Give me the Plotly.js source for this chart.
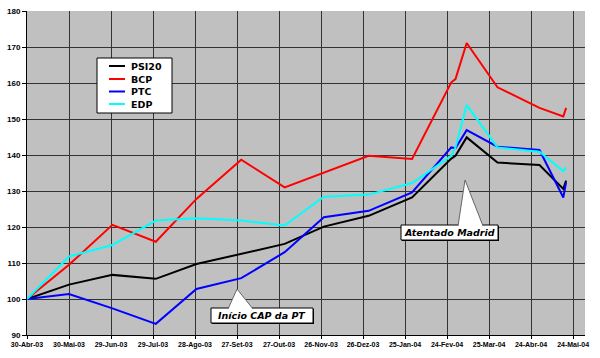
<!DOCTYPE html>
<html>
<head>
<meta charset="utf-8">
<script src="https://cdn.plot.ly/plotly-3.0.1.min.js"></script>
<style>html,body{margin:0;padding:0;background:#fff;}#chart{width:600px;height:358px;}</style>
</head>
<body>
<div id="chart"></div>
<script>
// ---- data ----
const dates = ['2003-04-30','2003-05-30','2003-06-30','2003-07-31','2003-08-29','2003-09-30','2003-10-31','2003-11-28','2003-12-30','2004-01-30','2004-02-27','2004-03-01','2004-03-09','2004-03-31','2004-04-30','2004-05-17','2004-05-19'];
const psi20 = [100, 104.0, 106.7, 105.6, 109.7, 112.5, 115.3, 120.1, 123.1, 128.2, 139.0, 139.8, 144.9, 137.9, 137.2, 130.6, 132.9];
const bcp   = [100, 109.5, 120.6, 115.9, 127.8, 138.7, 131.0, 135.1, 139.8, 138.9, 160.2, 161.1, 171.1, 158.8, 153.1, 150.7, 153.1];
const ptc   = [100, 101.4, 97.4, 93.1, 102.8, 105.8, 113.0, 122.7, 124.5, 129.6, 142.1, 141.9, 146.9, 142.3, 141.4, 128.2, 132.4];
const edp   = [100, 111.8, 115.0, 121.8, 122.4, 121.8, 120.4, 128.4, 129.0, 132.2, 139.8, 142.1, 153.9, 142.1, 140.9, 135.5, 136.6];
const seriesNames = ['PSI20', 'BCP', 'PTC', 'EDP'];
const tickDates = ['2003-04-30','2003-05-30','2003-06-29','2003-07-29','2003-08-28','2003-09-27','2003-10-27','2003-11-26','2003-12-26','2004-01-25','2004-02-24','2004-03-25','2004-04-24','2004-05-24'];
const tickLabels = ['30-Abr-03','30-Mai-03','29-Jun-03','29-Jul-03','28-Ago-03','27-Set-03','27-Out-03','26-Nov-03','26-Dez-03','25-Jan-04','24-Fev-04','25-Mar-04','24-Abr-04','24-Mai-04'];
const yTicks = [90, 100, 110, 120, 130, 140, 150, 160, 170, 180];
const calloutTexts = ['Atentado Madrid', 'Início CAP da PT'];

// ---- styling ----
const colors = ['#000000', '#ff0000', '#0000ff', '#00ffff'];
const W = 600, H = 358;
const M = {l: 27, r: 15, t: 11, b: 23};
const PW = W - M.l - M.r, PH = H - M.t - M.b;
const fx = px => (px - M.l) / PW;
const fy = py => (H - M.b - py) / PH;

const allSeries = [psi20, bcp, ptc, edp];
const traces = allSeries.map((vals, i) => ({
  type: 'scatter', mode: 'lines', x: dates, y: vals, name: seriesNames[i],
  line: {color: colors[i], width: 2}, showlegend: false
}));

const shapes = [];
const annotations = [];

// legend box
shapes.push({type: 'rect', xref: 'paper', yref: 'paper', x0: fx(97), x1: fx(172), y0: fy(113), y1: fy(58),
  fillcolor: '#ffffff', line: {color: '#000000', width: 1}});
const legY = [66, 79, 91.5, 104];
seriesNames.forEach((n, i) => {
  shapes.push({type: 'line', xref: 'paper', yref: 'paper', x0: fx(109), x1: fx(125), y0: fy(legY[i]), y1: fy(legY[i]),
    line: {color: colors[i], width: 2}});
  annotations.push({xref: 'paper', yref: 'paper', x: fx(129), y: fy(legY[i]), xanchor: 'left', yanchor: 'middle',
    text: n, showarrow: false, font: {family: 'DejaVu Sans', size: 9.5, color: '#000', weight: 'bold'}});
});

// callouts
function callout(text, box, apex, b1, b2) {
  shapes.push({type: 'rect', xref: 'paper', yref: 'paper', x0: fx(box[0] + 1), x1: fx(box[2] + 1), y0: fy(box[3] + 1), y1: fy(box[1] + 1),
    fillcolor: '#000000', line: {width: 0}});
  shapes.push({type: 'rect', xref: 'paper', yref: 'paper', x0: fx(box[0]), x1: fx(box[2]), y0: fy(box[3]), y1: fy(box[1]),
    fillcolor: '#ffffff', line: {color: '#000000', width: 1}});
  const p = `M ${fx(b1)} ${fy(box[1] + 1)} L ${fx(apex[0])} ${fy(apex[1])} L ${fx(b2)} ${fy(box[1] + 1)}`;
  shapes.push({type: 'path', xref: 'paper', yref: 'paper', path: p, fillcolor: '#ffffff', line: {color: '#666666', width: 1}});
  annotations.push({xref: 'paper', yref: 'paper', x: fx((box[0] + box[2]) / 2), y: fy((box[1] + box[3]) / 2),
    xanchor: 'center', yanchor: 'middle', text: text, showarrow: false,
    font: {family: 'DejaVu Sans', size: 9.5, color: '#000', weight: 'bold', style: 'italic'}});
}
callout(calloutTexts[0], [401, 225, 498, 240], [465, 180], 458, 483);
callout(calloutTexts[1], [211, 308, 313, 323], [237, 289], 228, 253);

const layout = {
  width: W, height: H,
  margin: {l: M.l, r: M.r, t: M.t, b: M.b, pad: 0},
  paper_bgcolor: '#ffffff', plot_bgcolor: '#c0c0c0',
  showlegend: false,
  xaxis: {
    type: 'date', range: ['2003-04-30', '2004-06-01 12:00'],
    tickmode: 'array', tickvals: tickDates, ticktext: tickLabels,
    tickfont: {family: 'Liberation Sans', size: 7, color: '#000', weight: 'bold'},
    ticks: 'outside', ticklen: 3, tickcolor: '#000', tickwidth: 1,
    showgrid: true, gridcolor: '#333333', gridwidth: 1,
    showline: true, linecolor: '#000', linewidth: 1, zeroline: false, tickangle: 0
  },
  yaxis: {
    range: [90, 180], tickmode: 'array', tickvals: yTicks,
    tickfont: {family: 'Liberation Sans', size: 8, color: '#000', weight: 'bold'},
    ticks: 'outside', ticklen: 4, tickcolor: '#000', tickwidth: 1,
    showgrid: true, gridcolor: '#333333', gridwidth: 1,
    showline: true, linecolor: '#000', linewidth: 1, zeroline: false
  },
  shapes: shapes,
  annotations: annotations
};

Plotly.newPlot('chart', traces, layout, {staticPlot: true, displayModeBar: false});
</script>
</body>
</html>
